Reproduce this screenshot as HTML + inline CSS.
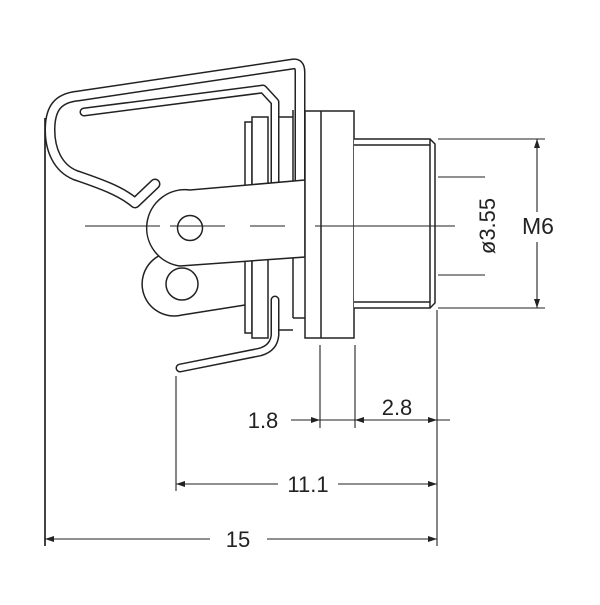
<!DOCTYPE html>
<html><head><style>html,body{margin:0;padding:0;background:#fff}</style></head>
<body>
<svg width="600" height="600" viewBox="0 0 600 600" xmlns="http://www.w3.org/2000/svg" font-family="Liberation Sans, sans-serif">
<rect width="600" height="600" fill="#fff"/>
<g fill="none" stroke-linejoin="round" stroke-linecap="round">
<path d="M155,184 L135,203 C120,190 95,182 75,175 C58,168 50,150 50,130 C50,108 58,98 78,96 L293,64 Q300,63 300,72 L300,182" stroke="#222" stroke-width="11"/>
<path d="M155,184 L135,203 C120,190 95,182 75,175 C58,168 50,150 50,130 C50,108 58,98 78,96 L293,64 Q300,63 300,72 L300,182" stroke="#fff" stroke-width="8"/>
<path d="M84,112 L263,89 L275,102 L275,185" stroke="#222" stroke-width="9"/>
<path d="M84,112 L263,89 L275,102 L275,185" stroke="#fff" stroke-width="6"/>
<path d="M275,300 L275,335 Q274,348 260,352 L180,368" stroke="#222" stroke-width="9"/>
<path d="M275,300 L275,335 Q274,348 260,352 L180,368" stroke="#fff" stroke-width="6"/>
</g>
<g fill="none" stroke="#222" stroke-width="1.5">
<rect x="245" y="122" width="7" height="211" fill="#fff"/>
<rect x="252" y="117" width="16" height="221" fill="#fff"/>
<line x1="278" y1="117" x2="293" y2="117"/>
<line x1="293" y1="110" x2="293" y2="318"/>
<line x1="293" y1="318" x2="305" y2="318"/>
<line x1="278" y1="330" x2="293" y2="330"/>
<path d="M245,305 L182,315 A32,32 0 1 1 175,252" fill="#fff"/>
<circle cx="182" cy="284" r="16" fill="#fff"/>
<path d="M305,180 L190,190 A38,38 0 0 0 180,266 L305,257 Z" fill="#fff"/>
<circle cx="190" cy="228" r="12.5" fill="#fff"/>
<rect x="305" y="111" width="49" height="227" fill="#fff"/>
<line x1="321" y1="111" x2="321" y2="338"/>
<path d="M354,139 L430,139 L435,144 L435,303 L430,308 L354,308" fill="#fff"/>
<line x1="354" y1="145" x2="430" y2="145"/>
<line x1="354" y1="302" x2="430" y2="302"/>
<line x1="430" y1="139" x2="430" y2="308"/>
</g>
<g stroke="#222" stroke-width="1.1" fill="none">
<line x1="85" y1="226" x2="160" y2="226"/>
<line x1="170" y1="226" x2="225" y2="226"/>
<line x1="250" y1="226" x2="285" y2="226"/>
<line x1="315" y1="226" x2="455" y2="226"/>
<line x1="438" y1="139" x2="545" y2="139"/>
<line x1="438" y1="308" x2="545" y2="308"/>
<line x1="438" y1="177" x2="485" y2="177"/>
<line x1="438" y1="275" x2="485" y2="275"/>
<line x1="537" y1="139" x2="537" y2="212"/>
<line x1="537" y1="242" x2="537" y2="308"/>
<line x1="45" y1="118" x2="45" y2="546" stroke-width="1.7"/>
<line x1="176" y1="376" x2="176" y2="491"/>
<line x1="320" y1="345" x2="320" y2="428"/>
<line x1="355" y1="345" x2="355" y2="428"/>
<line x1="437" y1="310" x2="437" y2="546"/>
<line x1="291" y1="420" x2="450" y2="420"/>
<line x1="176" y1="484" x2="278" y2="484"/>
<line x1="338" y1="484" x2="437" y2="484"/>
<line x1="45" y1="539" x2="210" y2="539"/>
<line x1="267" y1="539" x2="437" y2="539"/>
</g>
<g fill="#222">
<path d="M537,139 l-3,9 l6,0 z"/><path d="M537,308 l-3,-9 l6,0 z"/>
<path d="M320,420 l-9,-3 l0,6 z"/><path d="M355,420 l9,-3 l0,6 z"/>
<path d="M437,420 l-9,-3 l0,6 z"/>
<path d="M176,484 l9,-3 l0,6 z"/><path d="M437,484 l-9,-3 l0,6 z"/>
<path d="M45,539 l9,-3 l0,6 z"/><path d="M437,539 l-9,-3 l0,6 z"/>
</g>
<g fill="#222" font-size="22">
<text x="538" y="234" text-anchor="middle" font-size="23">M6</text>
<text transform="translate(495,226) rotate(-90)" text-anchor="middle">ø3.55</text>
<text x="263" y="428" text-anchor="middle">1.8</text>
<text x="397" y="415" text-anchor="middle">2.8</text>
<text x="308" y="492" text-anchor="middle">11.1</text>
<text x="238" y="547" text-anchor="middle">15</text>
</g>
</svg>
</body></html>
